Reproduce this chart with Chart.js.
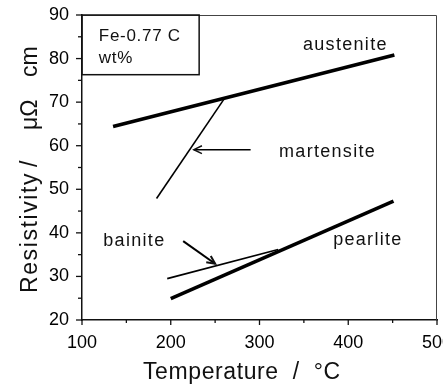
<!DOCTYPE html>
<html lang="en">
<head>
<meta charset="UTF-8">
<title>Fe-0.77 C resistivity</title>
<script src="https://cdn.jsdelivr.net/npm/chart.js@4.4.1/dist/chart.umd.min.js"></script>
<style>
    html, body { margin: 0; padding: 0; background: #fff; }
    #caixa { position: relative; width: 443px; height: 384px; }
</style>
</head>
<body>
<div id="caixa"><canvas id="grafico"></canvas></div>

<script>
    // end points: temperature (°C) / resistivity (μΩ cm)
    var austeniteT = [135, 452]
    var austeniteR = [64.4, 80.8]
    var martensiteT = [184, 260]
    var martensiteR = [47.9, 70.7]
    var pearliteT = [200, 451]
    var pearliteR = [24.9, 47.3]
    var bainiteT = [196, 321]
    var bainiteR = [29.5, 36.2]

    // arrows, tail -> tip
    var setaMartT = [290, 226]
    var setaMartR = [59.1, 59.1]
    var setaBainT = [214, 250]
    var setaBainR = [38.1, 32.9]

    var xTicks = [100, 200, 300, 400, 500]
    var yTicks = [20, 30, 40, 50, 60, 70, 80, 90]

    var rotulos = ['austenite', 'martensite', 'pearlite', 'bainite']
    var rotuloT = [349, 322, 383, 124]
    var rotuloR = [82.0, 57.5, 37.1, 36.9]

    var caixaTexto = ['Fe-0.77 C', 'wt%']

    function pontos(ts, rs) {
        return ts.map(function (t, i) { return { x: t, y: rs[i] } })
    }

    function linha(ts, rs, largura) {
        return {
            data: pontos(ts, rs),
            showLine: true,
            borderColor: '#000',
            borderWidth: largura,
            pointRadius: 0,
            borderCapStyle: 'butt'
        }
    }

    function seta(ctx, x0, y0, x1, y1) {
        var ang = Math.atan2(y1 - y0, x1 - x0)
        var len = 9
        ctx.beginPath()
        ctx.moveTo(x1 - len * Math.cos(ang - 0.45), y1 - len * Math.sin(ang - 0.45))
        ctx.lineTo(x1, y1)
        ctx.lineTo(x1 - len * Math.cos(ang + 0.45), y1 - len * Math.sin(ang + 0.45))
        ctx.stroke()
    }

    const enfeites = {
        id: 'enfeites',
        afterDraw(chart) {
            const ctx = chart.ctx
            const sx = chart.scales.x
            const sy = chart.scales.y
            const a = chart.chartArea
            ctx.save()

            // top and right frame
            ctx.strokeStyle = '#444'
            ctx.lineWidth = 1
            ctx.beginPath()
            ctx.moveTo(a.left, a.top + 0.5)
            ctx.lineTo(a.right - 0.5, a.top + 0.5)
            ctx.lineTo(a.right - 0.5, a.bottom)
            ctx.stroke()

            // ticks (major + minor), outward
            ctx.strokeStyle = '#111'
            ctx.lineWidth = 1.3
            for (var v = 100; v <= 500; v += 50) {
                var px = sx.getPixelForValue(v)
                var l = v % 100 == 0 ? 5 : 3
                ctx.beginPath()
                ctx.moveTo(px, a.bottom)
                ctx.lineTo(px, a.bottom + l)
                ctx.stroke()
            }
            for (var w = 20; w <= 90; w += 5) {
                var py = sy.getPixelForValue(w)
                var m = w % 10 == 0 ? 6 : 4
                ctx.beginPath()
                ctx.moveTo(a.left, py)
                ctx.lineTo(a.left - m, py)
                ctx.stroke()
            }

            // composition box
            ctx.lineWidth = 1.5
            var bx0 = sx.getPixelForValue(100)
            var bx1 = sx.getPixelForValue(232)
            var by0 = sy.getPixelForValue(90)
            var by1 = sy.getPixelForValue(76.3)
            ctx.strokeRect(bx0, by0, bx1 - bx0, by1 - by0)
            ctx.fillStyle = '#111'
            ctx.font = '17px "Liberation Sans", Arial, sans-serif'
            ctx.letterSpacing = '0.7px'
            ctx.textAlign = 'left'
            ctx.textBaseline = 'alphabetic'
            ctx.fillText(caixaTexto[0], sx.getPixelForValue(119), sy.getPixelForValue(84.1))
            ctx.fillText(caixaTexto[1], sx.getPixelForValue(119), sy.getPixelForValue(78.9))

            // phase labels
            ctx.font = '18px "Liberation Sans", Arial, sans-serif'
            ctx.letterSpacing = '1.3px'
            rotulos.forEach(function (r, i) {
                ctx.fillText(r, sx.getPixelForValue(rotuloT[i]), sy.getPixelForValue(rotuloR[i]))
            })

            // arrow heads
            ctx.lineWidth = 1.5
            seta(ctx, sx.getPixelForValue(setaMartT[0]), sy.getPixelForValue(setaMartR[0]),
                sx.getPixelForValue(setaMartT[1]), sy.getPixelForValue(setaMartR[1]))
            ctx.lineWidth = 2
            seta(ctx, sx.getPixelForValue(setaBainT[0]), sy.getPixelForValue(setaBainR[0]),
                sx.getPixelForValue(setaBainT[1]), sy.getPixelForValue(setaBainR[1]))

            // axis titles
            ctx.font = '23px "Liberation Sans", Arial, sans-serif'
            ctx.letterSpacing = '0.6px'
            ctx.fillText('Temperature  /  °C', 143, 379)

            ctx.translate(37, 0)
            ctx.rotate(-Math.PI / 2)
            ctx.letterSpacing = '1.6px'
            ctx.fillText('Resistivity', -293, 0)
            ctx.letterSpacing = '0px'
            ctx.fillText('/', -167, 0)
            ctx.fillText('μΩ', -130, 0)
            ctx.fillText('cm', -77, 0)

            ctx.restore()
        }
    }

    const config = {
        type: 'scatter',
        data: {
            datasets: [
                linha(austeniteT, austeniteR, 3.6),
                linha(pearliteT, pearliteR, 3.6),
                linha(martensiteT, martensiteR, 1.6),
                linha(bainiteT, bainiteR, 1.6),
                linha(setaMartT, setaMartR, 1.5),
                linha(setaBainT, setaBainR, 2)
            ]
        },
        options: {
            responsive: true,
            maintainAspectRatio: false,
            animation: false,
            layout: { padding: { top: 15, right: 6, left: 0, bottom: 0 } },
            plugins: { legend: { display: false }, tooltip: { enabled: false } },
            scales: {
                x: {
                    type: 'linear',
                    min: 100,
                    max: 500,
                    afterBuildTicks: function (s) { s.ticks = xTicks.map(function (v) { return { value: v } }) },
                    afterFit: function (s) { s.height = 64; s.paddingLeft = 0; s.paddingRight = 0 },
                    grid: { display: true, drawOnChartArea: false, drawTicks: false },
                    border: { display: true, color: '#111', width: 1.5 },
                    ticks: {
                        padding: 12,
                        color: '#000',
                        maxRotation: 0,
                        font: { family: '"Liberation Sans", Arial, sans-serif', size: 18 }
                    }
                },
                y: {
                    min: 20,
                    max: 90,
                    afterBuildTicks: function (s) { s.ticks = yTicks.map(function (v) { return { value: v } }) },
                    afterFit: function (s) { s.width = 82; s.paddingTop = 0; s.paddingBottom = 0 },
                    grid: { display: true, drawOnChartArea: false, drawTicks: false },
                    border: { display: true, color: '#111', width: 1.5 },
                    ticks: {
                        padding: 13,
                        color: '#000',
                        font: { family: '"Liberation Sans", Arial, sans-serif', size: 18 }
                    }
                }
            }
        },
        plugins: [enfeites]
    }

    const grafico = new Chart(document.getElementById('grafico'), config)
</script>
</body>
</html>
